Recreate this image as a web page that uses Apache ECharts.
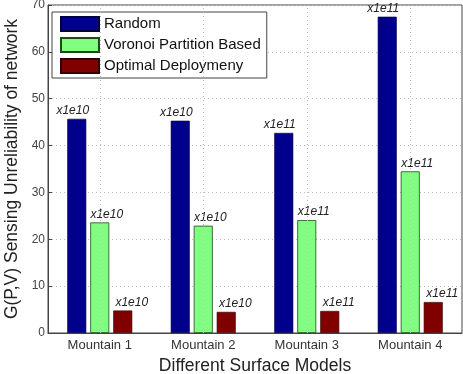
<!DOCTYPE html>
<html><head><meta charset="utf-8">
<script src="https://cdn.jsdelivr.net/npm/echarts@6/dist/echarts.min.js"></script>
<style>html,body{margin:0;padding:0;background:#fff}#c{width:463px;height:374px}</style>
</head><body><div id="c"></div>
<script>
const categories = ['Mountain 1', 'Mountain 2', 'Mountain 3', 'Mountain 4'];
const randomVals = [45.7, 45.3, 42.7, 67.5];
const voronoiVals = [23.6, 22.9, 24.1, 34.5];
const optimalVals = [4.8, 4.5, 4.7, 6.6];
const scaleLabels = ['x1e10', 'x1e10', 'x1e11', 'x1e11'];
const seriesNames = ['Random', 'Voronoi Partition Based', 'Optimal Deploymeny'];
const yTicks = [0, 10, 20, 30, 40, 50, 60, 70];

const chart = echarts.init(document.getElementById('c'));
const font = 'Liberation Sans, Arial, sans-serif';
function lbl(offsetX) {
  return {
    show: true, position: 'top', distance: 2, offset: [offsetX, 0],
    fontStyle: 'italic', fontSize: 12, fontFamily: font, color: '#222',
    formatter: p => scaleLabels[p.dataIndex]
  };
}
const grid = { color: '#bbb', type: [1, 3], width: 1 };
chart.setOption({
  animation: false,
  grid: { left: 48, right: 1, top: 5, bottom: 41, show: true, borderColor: '#444', borderWidth: 1,
    outerBoundsMode: 'none', containLabel: false },
  legend: {
    left: 52, top: 12, orient: 'vertical', itemWidth: 38, itemHeight: 14, itemGap: 5,
    icon: 'rect',
    backgroundColor: '#fff', borderColor: '#444', borderWidth: 1, padding: [4, 6, 4, 8],
    textStyle: { fontSize: 15, fontFamily: font, color: '#111' },
    data: seriesNames
  },
  xAxis: {
    type: 'category', data: categories, boundaryGap: true,
    name: 'Different Surface Models', nameLocation: 'middle', nameGap: 17,
    nameTextStyle: { fontSize: 17.5, fontFamily: font, color: '#222' },
    axisLine: { lineStyle: { color: '#444' } },
    axisTick: { show: false },
    axisLabel: { fontSize: 13, fontFamily: font, color: '#333', margin: 6 },
    splitLine: { show: false }
  },
  yAxis: {
    type: 'value', min: 0, max: 70, interval: 10,
    name: 'G(P,V) Sensing Unreliability of network', nameLocation: 'middle', nameGap: 23,
    nameTextStyle: { fontSize: 17.5, fontFamily: font, color: '#222' },
    axisLine: { show: true, lineStyle: { color: '#444' } },
    axisTick: { show: true, inside: true, length: 4, lineStyle: { color: '#444' } },
    axisLabel: { fontSize: 12, fontFamily: font, color: '#444', margin: 3,
      formatter: v => yTicks.includes(v) ? String(v) : '' },
    splitLine: { show: true, lineStyle: grid }
  },
  series: [
    { type: 'line', data: [], z: 0, silent: true,
      markLine: { silent: true, symbol: 'none', label: { show: false }, lineStyle: grid,
        data: categories.map(c => ({ xAxis: c })) } },
    { name: seriesNames[0], type: 'bar', data: randomVals, barWidth: 19, barGap: '21%',
      itemStyle: { color: '#00008C', borderColor: '#000040', borderWidth: 0.6 }, label: lbl(-4) },
    { name: seriesNames[1], type: 'bar', data: voronoiVals, barWidth: 19, barGap: '21%',
      itemStyle: { color: '#80FF80', borderColor: '#1a4a1a', borderWidth: 0.8 }, label: lbl(7) },
    { name: seriesNames[2], type: 'bar', data: optimalVals, barWidth: 19, barGap: '21%',
      itemStyle: { color: '#800000', borderColor: '#300000', borderWidth: 0.6 }, label: lbl(9) }
  ]
});
</script></body></html>
